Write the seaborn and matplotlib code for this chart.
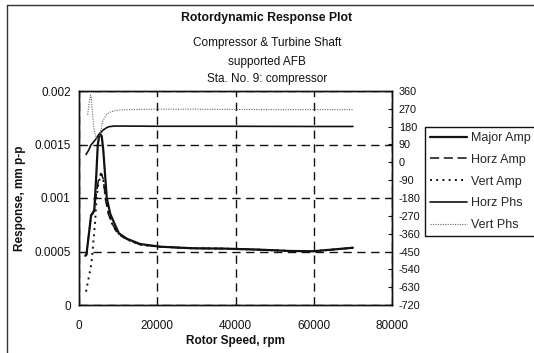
import matplotlib
matplotlib.use("Agg")
import matplotlib.pyplot as plt
import seaborn as sns
import pandas as pd
from matplotlib.lines import Line2D

# ---------------- data ----------------
rpm_major = [1600, 1900, 3100, 3500, 3900, 4400, 4800, 5300, 5800, 6200, 6600, 7100, 8000,
             9200, 10200, 12200, 15600, 20700, 29100, 37000, 45500, 53900, 59800, 66000, 70000]
major_amp = [0.00046, 0.00047, 0.00084, 0.00086, 0.00088, 0.00120, 0.00150, 0.00160, 0.00158,
             0.00145, 0.00125, 0.00100, 0.00085, 0.00075, 0.00067, 0.00062, 0.00057, 0.000545,
             0.00053, 0.000527, 0.000518, 0.000505, 0.000502, 0.000522, 0.000535]

rpm_horz = [1600, 1900, 3100, 3500, 3900, 4500, 5000, 5600, 6200, 6800, 7500, 8500, 9500,
            10500, 12500, 15600, 20700, 29100, 37000, 45500, 53900, 59800, 66000, 70000]
horz_amp = [0.00046, 0.00047, 0.00084, 0.00085, 0.00090, 0.00105, 0.00118, 0.00123, 0.00118,
            0.00098, 0.00085, 0.00076, 0.00069, 0.00065, 0.00061, 0.000565, 0.000543,
            0.00053, 0.000527, 0.000518, 0.000505, 0.000502, 0.000522, 0.000535]

rpm_vert = [1800, 3200, 4100, 4500, 5000, 5800, 6300, 6900, 7500, 8300, 9500, 11000, 13000,
            16000, 20700, 29100, 37000, 45500, 53900, 59800, 66000, 70000]
vert_amp = [0.000125, 0.00039, 0.00077, 0.00100, 0.00115, 0.00122, 0.00115, 0.00098, 0.00087,
            0.00077, 0.00069, 0.00064, 0.00060, 0.00056, 0.000545, 0.00053, 0.000527,
            0.000518, 0.000505, 0.000502, 0.000522, 0.000535]

rpm_hphs = [1800, 2500, 3000, 3600, 4300, 5000, 6100, 7000, 7700, 9000, 12000, 20000, 40000,
            60000, 70000]
horz_phs = [40, 62, 86, 100, 117, 138, 162, 174, 180, 183, 183, 182, 182, 181, 181]

rpm_vphs = [2200, 2600, 2900, 3100, 3400, 3700, 4100, 4700, 5200, 6100, 7000, 7700, 9000,
            10500, 15000, 20000, 30000, 40000, 50000, 60000, 70000]
vert_phs = [240, 300, 340, 335, 260, 190, 140, 112, 125, 210, 240, 252, 260, 264, 267, 268,
            268, 267, 266, 266, 266]

x_ticks = [0, 20000, 40000, 60000, 80000]
y_ticks = [0, 0.0005, 0.001, 0.0015, 0.002]
y_tick_labels = ["0", "0.0005", "0.001", "0.0015", "0.002"]
phs_ticks = list(range(-720, 361, 90))

title = "Rotordynamic Response Plot"
subtitles = ["Compressor & Turbine Shaft", "supported AFB", "Sta. No. 9: compressor"]

# ---------------- style ----------------
sns.set_style("white")
plt.rcParams["font.family"] = ["Liberation Sans", "DejaVu Sans"]
INK = "#111111"

W, H = 534, 353
fig = plt.figure(figsize=(W / 100, H / 100), dpi=100)
ax = fig.add_axes([79 / W, 1 - 305 / H, (392 - 79) / W, (305 - 91) / H])
ax2 = ax.twinx()

def draw(axis, x, y, label, **kw):
    df = pd.DataFrame({"rpm": x, "val": y})
    sns.lineplot(data=df, x="rpm", y="val", ax=axis, estimator=None, sort=False,
                 label=label, legend=False, **kw)

draw(ax, rpm_major, major_amp, "Major Amp", color=INK, lw=1.6, linestyle="-")
draw(ax, rpm_horz, horz_amp, "Horz Amp", color=INK, lw=1.1, linestyle=(0, (6, 3)))
draw(ax, rpm_vert, vert_amp, "Vert Amp", color=INK, lw=1.4, linestyle=(0, (1, 2.2)))
draw(ax2, rpm_hphs, horz_phs, "Horz Phs", color=INK, lw=1.2, linestyle="-")
draw(ax2, rpm_vphs, vert_phs, "Vert Phs", color="#666666", lw=0.8, linestyle=(0, (1, 1.2)))

for a in (ax, ax2):
    lg = a.get_legend()
    if lg is not None:
        lg.remove()

ax.set_xlim(0, 80000)
ax.set_ylim(0, 0.002)
ax2.set_ylim(-720, 360)
ax.set_xticks(x_ticks)
ax.set_xticklabels([str(v) for v in x_ticks])
ax.set_yticks(y_ticks)
ax.set_yticklabels(y_tick_labels)
ax2.set_yticks(phs_ticks)
ax2.set_yticklabels([str(v) for v in phs_ticks])
ax.set_xlabel("")
ax.set_ylabel("")
ax2.set_ylabel("")

ax.grid(True, color=INK, lw=1.0, linestyle=(0, (6, 4)))
ax2.grid(False)
ax.set_axisbelow(True)

for a in (ax, ax2):
    for s in a.spines.values():
        s.set_color(INK)
        s.set_linewidth(1.0)
        s.set_visible(True)

ax.tick_params(axis="x", direction="in", length=3, pad=11, labelsize=8.5, colors=INK)
ax.tick_params(axis="y", direction="in", length=3, pad=6, labelsize=8.5, colors=INK)
ax2.tick_params(axis="y", direction="in", length=3, pad=5, labelsize=7.8, colors=INK)

# titles
fig.text(0.5, 1 - 18 / H, title, ha="center", va="center", fontsize=8.8, fontweight="bold", color=INK)
for yy, s in zip([43, 62, 79], subtitles):
    fig.text(0.5, 1 - yy / H, s, ha="center", va="center", fontsize=8.5, color=INK)

fig.text(235.5 / W, 1 - 341 / H, "Rotor Speed, rpm", ha="center", va="center",
         fontsize=8.5, fontweight="bold", color=INK)
fig.text(20 / W, 1 - 198 / H, "Response, mm p-p", ha="center", va="center", rotation=90,
         fontsize=8.5, fontweight="bold", color=INK)

# legend
h1, l1 = ax.get_legend_handles_labels()
h2, l2 = ax2.get_legend_handles_labels()
leg = fig.legend(h1 + h2, l1 + l2, loc="upper left", bbox_to_anchor=(425 / W, 1 - 127 / H),
                 fontsize=9, frameon=True, fancybox=False, framealpha=1, edgecolor=INK,
                 handlelength=3.0, handletextpad=0.3, labelspacing=0.78, borderpad=0.4,
                 borderaxespad=0)
leg.get_frame().set_linewidth(1.0)

# chart border (left and top visible)
fig.add_artist(Line2D([7 / W, 7 / W], [0, 1 - 5 / H], transform=fig.transFigure, color="#333333", lw=1))
fig.add_artist(Line2D([7 / W, 1], [1 - 5 / H, 1 - 5 / H], transform=fig.transFigure, color="#333333", lw=1))

fig.savefig("out.png", dpi=100)
